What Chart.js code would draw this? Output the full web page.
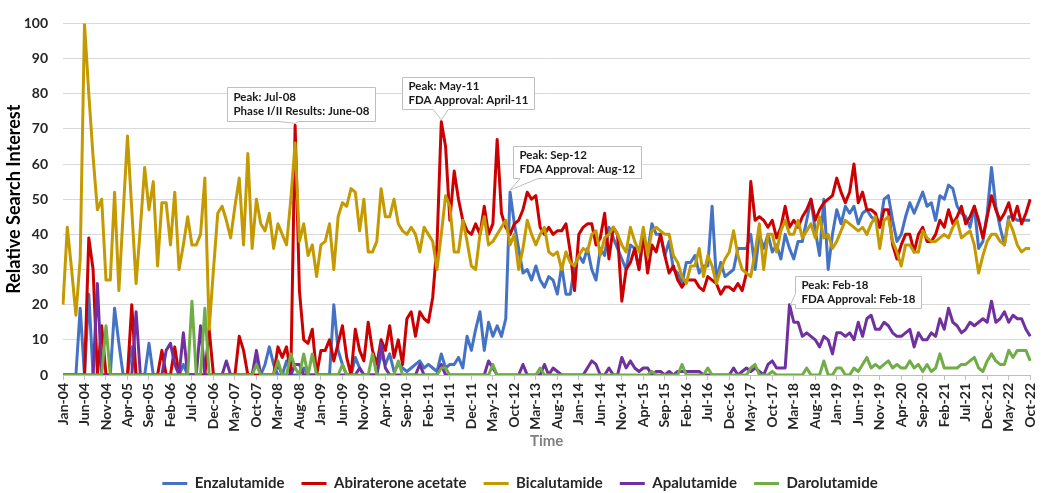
<!DOCTYPE html>
<html>
<head>
<meta charset="utf-8">
<script src="https://cdn.jsdelivr.net/npm/chart.js@4.4.1/dist/chart.umd.min.js"></script>
<style>
html,body{margin:0;padding:0;background:#ffffff;}
#wrap{width:1050px;height:493px;position:relative;}
</style>
</head>
<body>
<div id="wrap"><canvas id="c"></canvas></div>
<script>
// ---------- categories ----------
const MONTHS = ['Jan','Feb','Mar','Apr','May','Jun','Jul','Aug','Sep','Oct','Nov','Dec'];
const categories = [];
for (let y = 2004; y <= 2022; y++) {
  for (let m = 0; m < 12; m++) {
    if (y === 2022 && m > 9) break;
    categories.push(MONTHS[m] + '-' + String(y % 100).padStart(2, '0'));
  }
}
const tickLabels = ['Jan-04','Jun-04','Nov-04','Apr-05','Sep-05','Feb-06','Jul-06','Dec-06','May-07','Oct-07',
  'Mar-08','Aug-08','Jan-09','Jun-09','Nov-09','Apr-10','Sep-10','Feb-11','Jul-11','Dec-11','May-12','Oct-12',
  'Mar-13','Aug-13','Jan-14','Jun-14','Nov-14','Apr-15','Sep-15','Feb-16','Jul-16','Dec-16','May-17','Oct-17',
  'Mar-18','Aug-18','Jan-19','Jun-19','Nov-19','Apr-20','Sep-20','Feb-21','Jul-21','Dec-21','May-22','Oct-22'];

// ---------- series (one row per year, Jan..Dec) ----------
const enzalutamide = [
  0,0,0,0,19,0,23,0,0,0,0,0,
  19,9,0,0,8,0,0,0,9,0,0,0,
  0,0,0,0,3,0,0,0,0,0,0,0,
  0,0,0,0,0,0,0,0,0,4,0,3,
  8,3,0,0,4,0,0,0,2,0,0,0,
  0,0,0,20,7,3,0,0,5,2,0,0,
  0,0,6,3,6,1,3,2,1,2,3,4,
  2,3,2,1,6,2,3,3,5,2,11,7,
  13,18,7,15,11,14,11,16,52,43,36,29,
  30,27,31,27,25,28,27,23,31,23,23,31,
  34,32,36,30,27,36,34,42,39,36,33,30,
  37,36,30,39,35,43,40,40,34,38,30,29,
  26,32,32,34,29,31,31,48,27,32,28,29,
  30,36,36,36,40,30,40,36,40,35,37,33,
  40,36,33,38,38,44,50,41,34,50,30,40,
  47,43,48,46,48,43,46,47,45,44,42,50,
  51,44,38,40,45,49,46,49,52,48,49,44,
  51,50,54,53,48,46,45,42,48,36,38,46,
  59,48,42,37,45,45,44,44,44,44
];
const abiraterone = [
  0,0,0,0,0,0,39,30,0,14,0,0,
  0,0,0,0,20,0,0,0,0,0,0,7,
  0,0,8,0,0,0,0,0,0,0,13,0,
  0,0,0,0,0,11,7,0,0,0,0,0,
  0,0,8,5,8,0,71,24,10,9,13,0,
  7,7,10,4,9,14,5,0,13,7,4,15,
  7,3,10,7,14,5,10,3,16,18,11,18,
  16,15,22,37,72,65,44,58,50,44,41,40,
  43,40,48,40,43,67,46,42,40,43,44,47,
  52,50,51,42,40,42,40,41,41,43,35,24,
  40,42,43,43,37,39,46,33,42,40,21,30,
  32,36,30,40,29,37,35,40,34,29,31,27,
  25,27,27,27,25,24,28,27,26,23,25,25,
  24,26,24,29,55,44,45,44,42,44,39,42,
  48,42,44,42,45,47,50,44,47,49,50,51,
  56,52,49,52,60,49,52,47,47,46,42,47,
  47,37,33,37,40,40,35,40,42,38,38,40,
  44,42,47,43,45,48,43,45,48,44,39,45,
  51,47,44,46,49,44,48,43,46,50
];
const bicalutamide = [
  20,42,30,17,33,100,80,62,47,50,27,27,
  52,24,46,68,47,26,42,59,47,55,31,49,
  49,37,52,30,37,45,37,37,40,56,13,30,
  46,48,44,39,48,56,37,63,36,50,43,41,
  46,36,43,40,37,50,66,38,43,34,37,28,
  37,38,43,30,45,49,48,53,52,41,50,35,
  35,38,53,45,45,50,43,41,40,42,40,35,
  42,40,38,30,40,51,48,35,35,44,38,31,
  30,40,45,37,38,40,42,44,37,40,30,36,
  44,40,37,40,42,35,34,35,30,35,32,31,
  34,36,35,40,41,34,39,40,42,40,37,35,
  42,38,35,42,34,41,42,41,40,40,34,32,
  28,26,31,31,36,28,34,31,26,30,33,35,
  41,34,30,29,28,35,43,30,40,40,35,41,
  44,40,40,44,39,41,43,39,45,39,40,36,
  38,41,44,43,42,41,42,40,43,45,36,44,
  45,38,35,31,37,37,35,35,41,39,38,38,
  39,40,39,42,44,39,40,41,37,29,34,38,
  40,40,38,37,44,41,37,35,36,36
];
const apalutamide = [
  0,0,0,0,0,0,0,0,26,0,0,0,
  0,0,0,0,0,18,0,0,0,0,0,0,
  7,9,3,0,12,0,0,0,14,0,0,0,
  0,0,4,0,0,0,0,0,0,7,0,0,
  0,0,3,0,0,0,3,3,0,0,0,0,
  0,0,0,0,0,0,0,0,0,2,0,0,
  0,0,9,2,0,0,0,0,0,0,0,3,
  0,0,0,0,3,0,0,0,0,0,0,0,
  0,0,0,4,2,0,0,0,0,0,0,3,
  0,0,0,0,3,0,2,1,0,0,0,0,
  0,0,2,4,3,0,0,2,0,0,5,2,
  4,2,1,2,2,0,1,1,0,1,0,1,
  1,1,1,1,1,0,0,0,0,0,0,0,
  2,0,1,2,1,2,1,0,3,4,2,2,
  2,20,15,15,11,12,11,10,8,11,10,6,
  12,12,11,12,10,15,11,16,17,13,13,15,
  14,12,11,11,12,13,8,12,10,10,12,11,
  16,13,19,15,14,12,13,15,14,15,16,15,
  21,15,16,18,15,17,16,16,13,11
];
const darolutamide = [
  0,0,0,0,0,0,0,0,0,0,14,0,
  0,0,0,0,0,0,0,0,0,0,0,0,
  0,0,0,0,0,0,21,0,0,19,0,0,
  0,0,0,0,0,0,0,0,0,3,0,0,
  0,0,4,0,0,6,2,0,6,0,6,0,
  0,0,0,0,0,3,0,0,0,0,0,0,
  6,0,0,0,0,0,4,0,0,0,0,0,
  0,0,0,0,2,2,0,0,0,0,0,0,
  0,0,0,0,3,0,0,0,0,0,0,0,
  0,0,0,2,0,0,0,0,0,0,0,0,
  0,0,0,0,0,0,0,0,0,0,0,0,
  0,0,0,0,0,1,0,0,0,0,0,0,
  3,0,0,0,0,0,2,0,0,0,0,0,
  0,0,0,0,2,3,0,0,0,1,0,0,
  0,0,0,0,0,2,0,0,0,4,0,0,
  2,2,0,0,2,1,3,5,2,3,2,3,
  4,2,3,2,2,4,2,3,1,3,1,2,
  6,2,2,2,2,3,3,4,5,2,1,4,
  6,4,3,3,7,5,7,7,7,4
];
const seriesNames = ['Enzalutamide','Abiraterone acetate','Bicalutamide','Apalutamide','Darolutamide'];
const yTicks = [0,10,20,30,40,50,60,70,80,90,100];

// callouts: text + which series/month they point at
const calloutText = [
  ['Peak: Jul-08','Phase I/II Results: June-08'],
  ['Peak: May-11','FDA Approval: April-11'],
  ['Peak: Sep-12','FDA Approval: Aug-12'],
  ['Peak: Feb-18','FDA Approval: Feb-18']
];
const calloutSeries = [1, 1, 0, 3];
const calloutMonth = ['Jul-08','May-11','Sep-12','Feb-18'];

// ---------- drawing ----------
Chart.defaults.font.family = 'Lato, "Open Sans", "DejaVu Sans", sans-serif';

const calloutGeom = [
  {dx:-68, dy:-38, h:34, tail:'bottom', b1:-16, b2:3},
  {dx:-39, dy:-45, h:32, tail:'bottom', b1:-8, b2:7},
  {dx:3,   dy:-46, h:32, tail:'bottom', b1:10, b2:28},
  {dx:6,   dy:-29, h:32, tail:'left',   b1:-15, b2:-4}
];

const calloutPlugin = {
  id: 'callouts',
  afterDatasetsDraw(chart) {
    const ctx = chart.ctx;
    const xs = chart.scales.x, ys = chart.scales.y;
    calloutText.forEach((lines, k) => {
      const idx = categories.indexOf(calloutMonth[k]);
      const val = chart.data.datasets[calloutSeries[k]].data[idx];
      const ax = xs.getPixelForValue(idx), ay = ys.getPixelForValue(val);
      const g = calloutGeom[k];
      ctx.save();
      ctx.font = 'bold 11.5px Lato, "Open Sans", sans-serif';
      const maxW = Math.max(...lines.map(t => ctx.measureText(t).width));
      const W = Math.round(maxW + 12), H = g.h;
      const L = Math.round(ax + g.dx) + 0.5, T = Math.round(ay + g.dy) + 0.5;
      ctx.beginPath();
      ctx.moveTo(L, T);
      ctx.lineTo(L + W, T);
      ctx.lineTo(L + W, T + H);
      if (g.tail === 'bottom') {
        ctx.lineTo(ax + g.b2, T + H);
        ctx.lineTo(ax, ay - 2);
        ctx.lineTo(ax + g.b1, T + H);
        ctx.lineTo(L, T + H);
      } else {
        ctx.lineTo(L, T + H);
        ctx.lineTo(L, T + H + g.b2);
        ctx.lineTo(ax + 1, ay);
        ctx.lineTo(L, T + H + g.b1);
      }
      ctx.closePath();
      ctx.fillStyle = '#ffffff';
      ctx.fill();
      ctx.strokeStyle = '#bfbfbf';
      ctx.lineWidth = 1;
      ctx.stroke();
      ctx.fillStyle = '#1a1a1a';
      ctx.textBaseline = 'middle';
      ctx.textAlign = 'left';
      ctx.fillText(lines[0], L + 6, T + H / 2 - 7);
      ctx.fillText(lines[1], L + 6, T + H / 2 + 7);
      ctx.restore();
    });
  }
};

const colors = ['#4472C4', '#CC0000', '#C49A00', '#7030A0', '#70AD47'];
const seriesData = [enzalutamide, abiraterone, bicalutamide, apalutamide, darolutamide];

const datasets = seriesData.map((d, i) => ({
  label: seriesNames[i],
  data: d,
  borderColor: colors[i],
  backgroundColor: colors[i],
  borderWidth: 3,
  pointRadius: 0,
  tension: 0,
  fill: false,
  order: 5 - i,
  borderJoinStyle: 'round'
}));

new Chart(document.getElementById('c'), {
  type: 'line',
  data: { labels: categories, datasets },
  plugins: [calloutPlugin],
  options: {
    responsive: true,
    maintainAspectRatio: false,
    animation: false,
    layout: { padding: { top: 8, right: 10, bottom: -8, left: 0 } },
    plugins: {
      tooltip: { enabled: false },
      legend: {
        position: 'bottom',
        labels: {
          usePointStyle: true,
          pointStyle: 'line',
          pointStyleWidth: 25,
          boxHeight: 14,
          padding: 17,
          color: '#262626',
          font: { size: 15, weight: 'bold' },
          sort: (a, b) => a.datasetIndex - b.datasetIndex
        }
      }
    },
    scales: {
      x: {
        type: 'category',
        offset: false,
        afterFit(s) { s.height = 84; },
        grid: {
          display: true,
          drawOnChartArea: false,
          drawTicks: true,
          tickLength: 5,
          color: c => (tickLabels.includes(categories[c.index]) ? '#bfbfbf' : 'rgba(0,0,0,0)')
        },
        border: { display: true, color: '#bfbfbf', width: 1 },
        ticks: {
          autoSkip: false,
          maxRotation: 90,
          minRotation: 90,
          padding: 3,
          color: '#262626',
          font: { size: 14, weight: 'bold' },
          callback: (v, i) => (tickLabels.includes(categories[i]) ? categories[i] : '')
        },
        title: {
          display: true,
          text: 'Time',
          color: '#808080',
          font: { size: 15, weight: 'bold' },
          padding: { top: 0, bottom: 9 }
        }
      },
      y: {
        min: 0,
        max: 100,
        afterFit(s) { s.width = 63; },
        afterBuildTicks(s) { s.ticks = yTicks.map(v => ({ value: v })); },
        grid: { color: '#d9d9d9', lineWidth: 1, drawTicks: false },
        border: { display: false },
        ticks: {
          padding: 15,
          color: '#262626',
          font: { size: 14, weight: 'bold' }
        },
        title: {
          display: true,
          text: 'Relative Search Interest',
          color: '#000000',
          font: { size: 18, weight: 'bold' },
          padding: { top: 3, bottom: 0 }
        }
      }
    }
  }
});
</script>
</body>
</html>
